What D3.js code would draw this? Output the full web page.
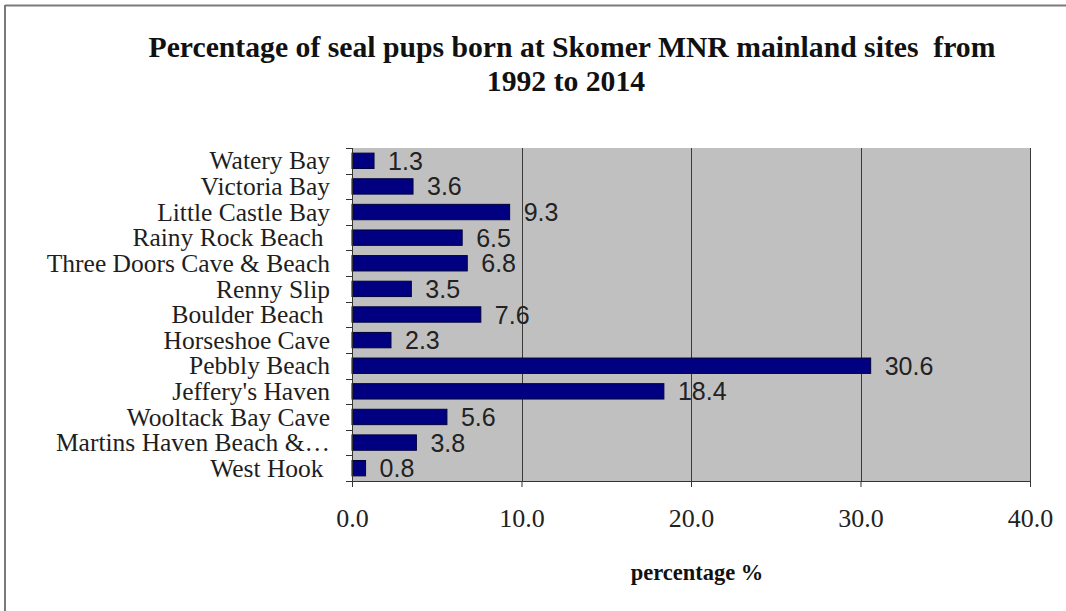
<!DOCTYPE html>
<html>
<head>
<meta charset="utf-8">
<script src="https://cdn.jsdelivr.net/npm/d3@7/dist/d3.min.js"></script>
<style>
  html, body { margin: 0; padding: 0; background: #fff; }
  svg { display: block; }
</style>
</head>
<body>
<svg id="chart" width="1066" height="611"></svg>
<script>
const categories = [
  "Watery Bay", "Victoria Bay", "Little Castle Bay", "Rainy Rock Beach ",
  "Three Doors Cave & Beach", "Renny Slip", "Boulder Beach ", "Horseshoe Cave",
  "Pebbly Beach", "Jeffery's Haven", "Wooltack Bay Cave", "Martins Haven Beach &…",
  "West Hook "
];
const values = [1.3, 3.6, 9.3, 6.5, 6.8, 3.5, 7.6, 2.3, 30.6, 18.4, 5.6, 3.8, 0.8];
const xTicks = [0, 10, 20, 30, 40];
const titleLines = ["Percentage of seal pups born at Skomer MNR mainland sites  from", "1992 to 2014"];
const xTitle = "percentage %";

const svg = d3.select("#chart");
const plot = { left: 352, right: 1030, top: 148, bottom: 481 };

// outer frame
svg.append("line").attr("x1", 5).attr("x2", 1066).attr("y1", 5.5).attr("y2", 5.5)
  .attr("stroke", "#7a7a7a").attr("stroke-width", 2);
svg.append("line").attr("x1", 5).attr("x2", 5).attr("y1", 5).attr("y2", 611)
  .attr("stroke", "#7a7a7a").attr("stroke-width", 2);

const x = d3.scaleLinear().domain([0, 40]).range([plot.left, plot.right]);
const y = d3.scaleBand().domain(categories).range([plot.top, plot.bottom])
  .paddingInner(0.4).paddingOuter(0.2);
const yb = d3.scaleBand().domain(categories).range([plot.top, plot.bottom]);

// plot background
svg.append("rect").attr("x", plot.left).attr("y", plot.top)
  .attr("width", plot.right - plot.left).attr("height", plot.bottom - plot.top)
  .attr("fill", "#c0c0c0");

// gridlines
svg.append("g").selectAll("line").data(xTicks.filter(d => d > 0)).join("line")
  .attr("x1", d => Math.round(x(d)) + 0.5).attr("x2", d => Math.round(x(d)) + 0.5)
  .attr("y1", plot.top).attr("y2", plot.bottom)
  .attr("stroke", "#3a3a3a").attr("stroke-width", 1);

// bars
svg.append("g").selectAll("rect").data(values).join("rect")
  .attr("x", plot.left)
  .attr("y", (d, i) => y(categories[i]))
  .attr("width", d => x(d) - plot.left)
  .attr("height", y.bandwidth())
  .attr("fill", "#000080")
  .attr("stroke", "#00003a").attr("stroke-width", 1);

// value labels
svg.append("g").selectAll("text").data(values).join("text")
  .attr("x", d => x(d) + 14)
  .attr("y", (d, i) => y(categories[i]) + y.bandwidth() / 2)
  .attr("dy", "0.36em")
  .attr("font-family", "Liberation Sans, Arial, sans-serif")
  .attr("font-size", 25)
  .attr("fill", "#222")
  .text(d => d.toFixed(1));

// y axis
const yAxis = d3.axisLeft(yb).tickSize(0).tickPadding(0);
const gy = svg.append("g").attr("transform", `translate(${plot.left},0)`).call(yAxis);
gy.select(".domain").remove();
gy.selectAll("text")
  .attr("x", -22)
  .attr("dy", "0.34em")
  .attr("font-family", "Liberation Serif, Times New Roman, serif")
  .attr("font-size", 25.5)
  .attr("fill", "#1e1e1e")
  .style("white-space", "pre");
// y tick marks at band boundaries
const bounds = categories.map(c => yb(c)).concat([plot.bottom]);
svg.append("g").selectAll("line").data(bounds).join("line")
  .attr("x1", plot.left - 6).attr("x2", plot.left)
  .attr("y1", d => Math.round(d) + 0.5).attr("y2", d => Math.round(d) + 0.5)
  .attr("stroke", "#333");
svg.append("line").attr("x1", plot.left + 0.5).attr("x2", plot.left + 0.5)
  .attr("y1", plot.top).attr("y2", plot.bottom).attr("stroke", "#333");

// x axis
const xAxis = d3.axisBottom(x).tickValues(xTicks).tickSize(6).tickPadding(22)
  .tickFormat(d3.format(".1f"));
const gx = svg.append("g").attr("transform", `translate(0,${plot.bottom})`).call(xAxis);
gx.select(".domain").attr("stroke", "#333");
gx.selectAll(".tick line").attr("stroke", "#333");
gx.selectAll("text")
  .attr("font-family", "Liberation Serif, Times New Roman, serif")
  .attr("font-size", 26)
  .attr("fill", "#222");

// titles
svg.append("g").selectAll("text").data(titleLines).join("text")
  .attr("x", (d, i) => i === 0 ? 572 : 566)
  .attr("y", (d, i) => 57 + i * 34)
  .attr("text-anchor", "middle")
  .attr("font-family", "Liberation Serif, Times New Roman, serif")
  .attr("font-weight", "bold")
  .attr("font-size", 29.7)
  .attr("fill", "#111")
  .style("white-space", "pre")
  .text(d => d);

svg.append("text")
  .attr("x", 697).attr("y", 580)
  .attr("text-anchor", "middle")
  .attr("font-family", "Liberation Serif, Times New Roman, serif")
  .attr("font-weight", "bold")
  .attr("font-size", 22.5)
  .attr("fill", "#111")
  .style("white-space", "pre")
  .text(xTitle);
</script>
</body>
</html>
